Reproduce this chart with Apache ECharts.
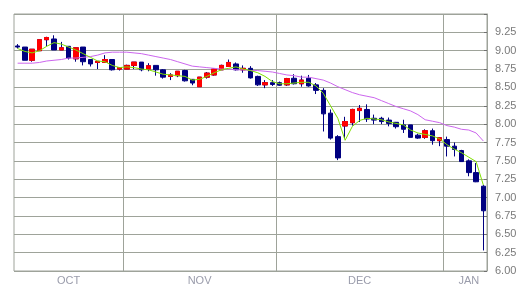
<!DOCTYPE html>
<html><head><meta charset="utf-8">
<script src="https://cdn.jsdelivr.net/npm/echarts@6/dist/echarts.min.js"></script>
<style>html,body{margin:0;padding:0;background:#fff}#c{width:530px;height:300px}</style>
</head><body><div id="c"></div>
<script>
// Daily OHLC
const opens  = [9.065,9.05,8.87,9.00,9.15,9.16,9.01,9.06,8.89,9.05, 8.88,8.84,8.84,8.88,8.75,8.75,8.80,8.845,8.75,8.80, 8.74,8.65,8.66,8.73,8.61,8.51,8.64,8.67,8.74,8.785, 8.82,8.74,8.76,8.65,8.535,8.565,8.565,8.535,8.625,8.55, 8.625,8.535,8.46,8.15,7.83,7.975,8.02,8.185,8.20,8.08, 8.08,8.055,8.025,7.99,7.99,7.85,7.82,7.91,7.775,7.79, 7.70,7.64,7.50,7.34,7.155];
const closes = [9.05,8.87,9.02,9.15,9.18,9.01,9.04,8.90,9.04,8.85, 8.82,8.855,8.88,8.74,8.77,8.80,8.845,8.74,8.795,8.74, 8.64,8.67,8.72,8.59,8.56,8.64,8.695,8.75,8.80,8.84, 8.74,8.76,8.63,8.535,8.565,8.54,8.53,8.62,8.55,8.60, 8.52,8.46,8.14,7.81,7.54,8.035,8.20,8.215,8.07,8.055, 8.035,8.01,7.965,7.93,7.82,7.81,7.91,7.775,7.815,7.70, 7.655,7.49,7.34,7.215,6.82];
const lows   = [9.03,8.87,8.85,9.00,9.06,9.01,9.01,8.88,8.85,8.80, 8.785,8.75,8.84,8.73,8.73,8.75,8.75,8.72,8.72,8.66, 8.62,8.60,8.64,8.58,8.53,8.51,8.62,8.66,8.74,8.785, 8.73,8.70,8.62,8.52,8.49,8.52,8.52,8.52,8.54,8.51, 8.51,8.41,7.90,7.79,7.51,7.80,7.98,8.03,8.03,8.00, 8.00,7.97,7.94,7.88,7.82,7.80,7.80,7.72,7.70,7.56, 7.56,7.49,7.29,7.21,6.28];
const highs  = [9.09,9.05,9.02,9.15,9.19,9.21,9.12,9.06,9.04,9.05, 8.88,8.855,8.94,8.88,8.77,8.81,8.845,8.845,8.83,8.80, 8.75,8.695,8.72,8.74,8.61,8.64,8.71,8.76,8.81,8.88, 8.84,8.80,8.79,8.66,8.60,8.60,8.58,8.63,8.68,8.66, 8.67,8.56,8.49,8.20,7.85,8.10,8.21,8.26,8.27,8.13, 8.10,8.09,8.03,8.06,7.99,7.87,7.93,7.94,7.82,7.83, 7.75,7.65,7.52,7.47,7.17];
// Moving averages
const maShort = [9.03,8.99,8.97,9.00,9.06,9.11,9.09,9.05,9.01,8.96, 8.91,8.86,8.85,8.80,8.77,8.78,8.77,8.75,8.74,8.71, 8.68,8.67,8.66,8.65,8.60,8.61,8.65,8.70,8.74,8.76, 8.78,8.75,8.73,8.70,8.65,8.58,8.55,8.55,8.56,8.57, 8.57,8.52,8.42,8.25,8.08,7.78,7.97,8.05,8.08,8.07, 8.06,8.03,8.01,7.99,7.92,7.88,7.86,7.84,7.80,7.72, 7.66,7.61,7.55,7.49,7.17];
const maLong  = [8.83,8.83,8.83,8.84,8.86,8.87,8.88,8.90,8.90,8.91, 8.92,8.94,8.97,8.98,8.98,8.98,8.97,8.96,8.94,8.92, 8.90,8.88,8.85,8.82,8.79,8.78,8.77,8.76,8.75,8.75, 8.74,8.74,8.73,8.73,8.72,8.71,8.69,8.67,8.66,8.64, 8.64,8.62,8.60,8.56,8.51,8.47,8.43,8.40,8.38,8.36, 8.32,8.28,8.24,8.21,8.18,8.13,8.06,8.04,8.02,7.98, 7.96,7.93,7.92,7.88,7.77];
// Month tick labels (by trading-day index) and month boundaries
const monthLabels = {7:'OCT', 25:'NOV', 47:'DEC', 62:'JAN'};
const monthStarts = [15, 36, 59];
const categories = opens.map((_, i) => 'D' + (i + 1));

const kData = opens.map((o, i) => [o, closes[i], lows[i], highs[i]]);
const upBodies = opens.map((o, i) => closes[i] > o ? [o, closes[i], o, closes[i]] : '-');

const gridColor = '#9ea39a';
const chart = echarts.init(document.getElementById('c'), null, {renderer: 'canvas'});
chart.setOption({
  animation: false,
  backgroundColor: '#ffffff',
  grid: {left: 14, top: 14, width: 473, height: 257, show: true, borderColor: gridColor, borderWidth: 1, backgroundColor: 'transparent'},
  xAxis: {
    type: 'category', data: categories, boundaryGap: true,
    axisLine: {show: false}, axisTick: {show: false},
    axisLabel: {interval: 0, formatter: (v, i) => monthLabels[i] || '', color: '#9a9cab', fontSize: 11, fontFamily: 'Liberation Sans, Arial, sans-serif', margin: 4},
    splitLine: {show: true, interval: (i) => monthStarts.indexOf(i) >= 0, lineStyle: {color: gridColor, width: 1}}
  },
  yAxis: {
    type: 'value', position: 'right', min: 6, max: 9.5, interval: 0.25, scale: true,
    axisLine: {show: true, lineStyle: {color: gridColor}},
    axisTick: {show: true, inside: true, length: 3, lineStyle: {color: '#707070'}},
    axisLabel: {formatter: v => v >= 9.5 ? '' : v.toFixed(2), color: '#7a7a7a', fontSize: 11, fontFamily: 'Liberation Sans, Arial, sans-serif', margin: 8},
    splitLine: {show: true, lineStyle: {color: gridColor, width: 1}}
  },
  series: [
    {type: 'candlestick', data: kData, barWidth: 5,
     itemStyle: {color: '#ff0000', color0: '#000080', borderColor: '#000080', borderColor0: '#000080', borderWidth: 1}, z: 2},
    {type: 'candlestick', data: upBodies, barWidth: 5,
     itemStyle: {color: '#ff0000', color0: '#ff0000', borderColor: '#ff0000', borderColor0: '#ff0000', borderWidth: 1}, z: 3},
    {type: 'line', data: maLong, symbol: 'none', lineStyle: {color: '#cc66ee', width: 1}, z: 4},
    {type: 'line', data: maShort, symbol: 'none', lineStyle: {color: '#7fe000', width: 1}, z: 4}
  ]
});
</script>
</body></html>
